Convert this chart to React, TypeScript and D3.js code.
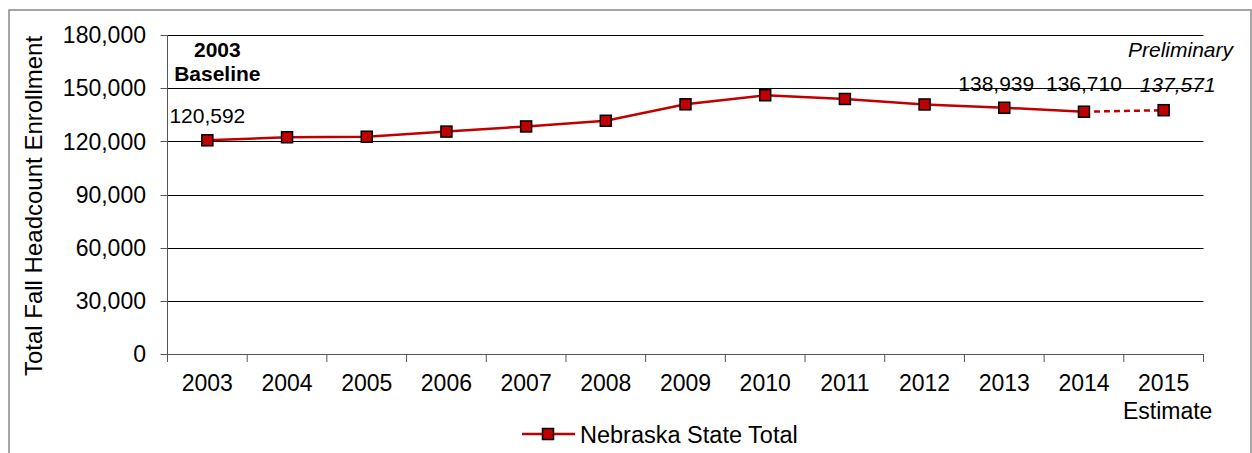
import React from 'react';
import * as d3 from 'd3';

const years = ['2003', '2004', '2005', '2006', '2007', '2008', '2009', '2010', '2011', '2012', '2013', '2014', '2015'];
const enrollment = [120592, 122300, 122600, 125500, 128400, 131600, 140900, 146000, 143900, 140800, 138939, 136710, 137571];
const yTicks = [0, 30000, 60000, 90000, 120000, 150000, 180000];
const labeledYears = ['2003', '2013', '2014', '2015'];
const seriesName = 'Nebraska State Total';
const yTitle = 'Total Fall Headcount Enrollment';

const W = 1252;
const H = 453;
const FONT = '"Liberation Sans", Arial, sans-serif';
const RED = '#C00000';

export default function App() {
  const margin = { left: 167.5, right: 1203.5, top: 35, bottom: 354 };
  const x = d3.scaleBand<string>().domain(years).range([margin.left, margin.right]).padding(0);
  const y = d3.scaleLinear().domain([0, 180000]).range([margin.bottom, margin.top]);
  const cx = (yr: string) => (x(yr) as number) + x.bandwidth() / 2;
  const fmt = d3.format(',');

  const pts = years.map((yr, i) => ({ yr, v: enrollment[i], px: cx(yr), py: y(enrollment[i]) }));
  const line = d3.line<{ px: number; py: number }>().x(d => d.px).y(d => d.py);
  const solid = pts.slice(0, pts.length - 1);
  const dashed = pts.slice(pts.length - 2);

  const boundaries = [...years.map(yr => x(yr) as number), margin.right];
  const labelRef = y(enrollment[10]) - 17;

  return (
    <svg width={W} height={H} style={{ position: 'absolute', left: 0, top: 0, background: '#fff' }} fontFamily={FONT}>
      <rect x={0} y={0} width={W} height={H} fill="#fff" />
      <rect x={9} y={10} width={W - 10} height={H} fill="none" stroke="#888" strokeWidth={1.5} />

      {/* gridlines */}
      {yTicks.filter(t => t > 0).map(t => (
        <line key={t} x1={margin.left} x2={margin.right} y1={Math.round(y(t)) + 0.5} y2={Math.round(y(t)) + 0.5} stroke="#000" strokeWidth={1} />
      ))}
      {/* y axis */}
      <line x1={margin.left} x2={margin.left} y1={margin.top} y2={margin.bottom} stroke="#555" strokeWidth={1} />
      {yTicks.map(t => (
        <g key={'yt' + t}>
          <line x1={margin.left - 7} x2={margin.left} y1={Math.round(y(t)) + 0.5} y2={Math.round(y(t)) + 0.5} stroke="#555" />
          <text x={146} y={y(t)} dy="0.36em" textAnchor="end" fontSize={23} fill="#000">{fmt(t)}</text>
        </g>
      ))}
      {/* x axis */}
      <line x1={margin.left} x2={margin.right} y1={margin.bottom + 0.5} y2={margin.bottom + 0.5} stroke="#555" strokeWidth={1} />
      {boundaries.map((b, i) => (
        <line key={'xt' + i} x1={b} x2={b} y1={margin.bottom} y2={margin.bottom + 8} stroke="#555" />
      ))}
      {years.map(yr => (
        <text key={'xl' + yr} x={cx(yr)} y={391} textAnchor="middle" fontSize={23} fill="#000">{yr}</text>
      ))}
      <text x={cx('2015') + 4} y={419} textAnchor="middle" fontSize={23} fill="#000">Estimate</text>

      {/* y title */}
      <text transform={`translate(42,${206}) rotate(-90)`} textAnchor="middle" fontSize={24} fill="#000">{yTitle}</text>

      {/* series */}
      <path d={line(solid) as string} fill="none" stroke={RED} strokeWidth={2.5} />
      <path d={line(dashed) as string} fill="none" stroke={RED} strokeWidth={2.5} strokeDasharray="6,4" />
      {pts.map(p => (
        <rect key={'m' + p.yr} x={p.px - 5.5} y={p.py - 5.5} width={11} height={11} fill={RED} stroke="#000" strokeWidth={1.5} />
      ))}

      {/* data labels */}
      {pts.filter(p => labeledYears.includes(p.yr)).map(p => {
        const italic = p.yr === '2015';
        const dx = p.yr === '2013' ? -8 : p.yr === '2015' ? 14 : 0;
        const ly = p.yr === '2003' ? p.py - 17 : labelRef;
        return (
          <text key={'dl' + p.yr} x={p.px + dx} y={italic ? ly + 1 : ly} textAnchor="middle" fontSize={21} fontStyle={italic ? 'italic' : 'normal'} fill="#000">
            {fmt(p.v)}
          </text>
        );
      })}

      <text x={cx('2003') + 10} y={57} textAnchor="middle" fontSize={21} fontWeight="bold" fill="#000">2003</text>
      <text x={cx('2003') + 10} y={81} textAnchor="middle" fontSize={21} fontWeight="bold" fill="#000">Baseline</text>
      <text x={1233} y={57} textAnchor="end" fontSize={21} fontStyle="italic" fill="#000">Preliminary</text>

      {/* legend */}
      <line x1={522} x2={575} y1={434} y2={434} stroke={RED} strokeWidth={2.5} />
      <rect x={548 - 5.5} y={434 - 5.5} width={11} height={11} fill={RED} stroke="#000" strokeWidth={1.5} />
      <text x={580} y={443} fontSize={23.5} fill="#000">{seriesName}</text>
    </svg>
  );
}
